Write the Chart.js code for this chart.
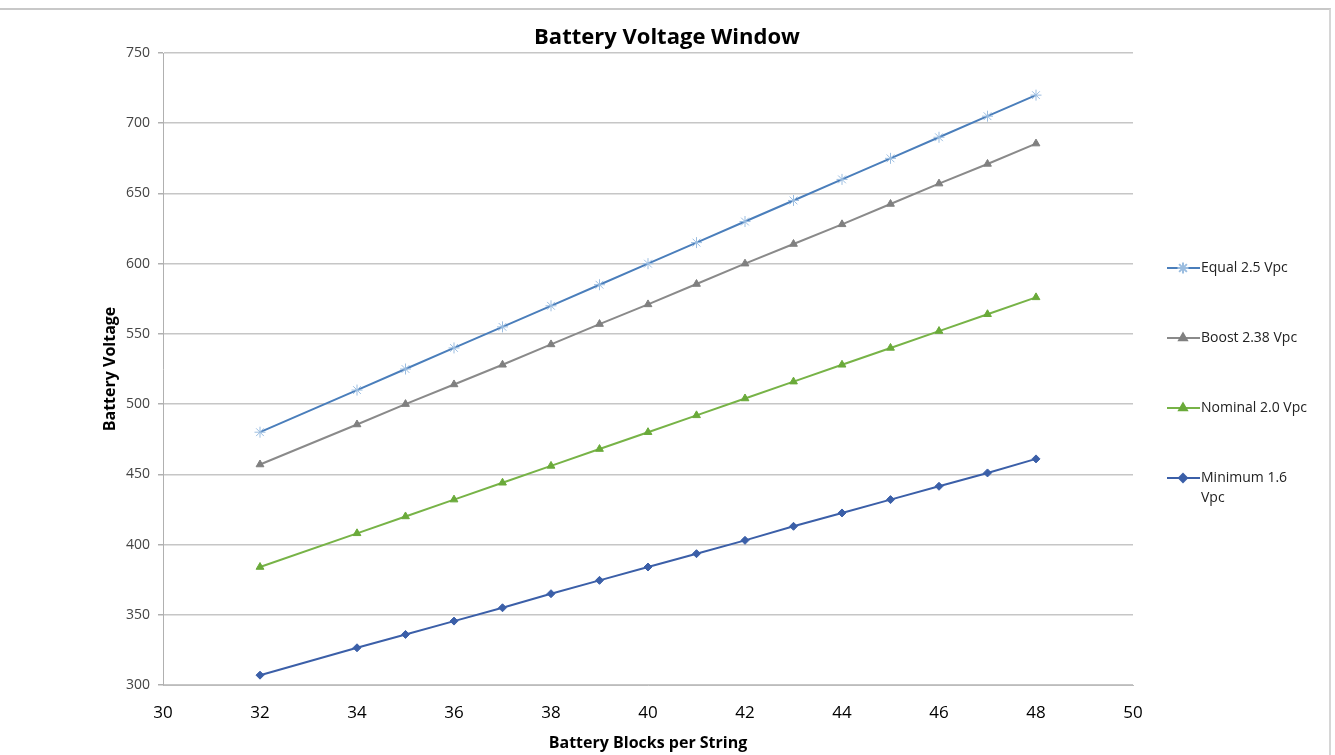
<!DOCTYPE html>
<html>
<head>
<meta charset="utf-8">
<script src="https://cdn.jsdelivr.net/npm/chart.js@4"></script>
<style>
  html,body{margin:0;padding:0;background:#fff;}
  #wrap{position:relative;width:1335px;height:755px;}
  #frame{position:absolute;left:-2px;top:8px;width:1331px;height:760px;border-top:2px solid #c8c8c8;border-right:2px solid #d6d6d6;}
  canvas{position:absolute;left:0;top:0;}
</style>
</head>
<body>
<div id="wrap">
  <div id="frame"></div>
  <canvas id="chart" width="1335" height="755"></canvas>
</div>
<script>
// blocks per string (x values)
const blocks = [32,34,35,36,37,38,39,40,41,42,43,44,45,46,47,48];

const equal   = [480,510,525,540,555,570,585,600,615,630,645,660,675,690,705,720];
const boost   = [457,485.5,500,514,528,542.5,557,571,585.5,600,614,628,642.5,657,671,685.5];
const nominal = [384,408,420,432,444,456,468,480,492,504,516,528,540,552,564,576];
const minimum = [307,326.5,336,345.5,355,365,374.5,384,393.5,403,413,422.5,432,441.5,451,461];

const seriesNames = ["Equal 2.5 Vpc","Boost 2.38 Vpc","Nominal 2.0 Vpc",["Minimum 1.6","Vpc"]];

const xTicks = [30,32,34,36,38,40,42,44,46,48,50];
const yTicks = [300,350,400,450,500,550,600,650,700,750];

function qs(id){ return document.getElementById(id); }

function pts(ys){ return blocks.map((x,i)=>({x:x,y:ys[i]})); }

const FONT = "'Open Sans', 'Liberation Sans', sans-serif";

// title + legend on the right, drawn after the chart
const extras = {
  id:"extras",
  afterDraw(chart){
    const ctx = chart.ctx;
    ctx.save();
    ctx.fillStyle = "#000";
    ctx.font = "bold 22px " + FONT;
    ctx.textAlign = "center";
    ctx.textBaseline = "middle";
    ctx.fillText("Battery Voltage Window", 667, 38);

    const rows = [268,338,408,478];
    chart.data.datasets.forEach((ds,i)=>{
      const y = rows[i];
      ctx.strokeStyle = ds.borderColor;
      ctx.lineWidth = 2;
      ctx.beginPath();
      ctx.moveTo(1167,y); ctx.lineTo(1200,y); ctx.stroke();
      ctx.fillStyle = ds.pointBackgroundColor;
      ctx.strokeStyle = ds.pointBorderColor;
      Chart.helpers.drawPoint(ctx,{
        pointStyle:ds.pointStyle, radius:ds.pointRadius, borderWidth:ds.pointBorderWidth||1, rotation:0
      },1183,y);
      ctx.fillStyle = "#222";
      ctx.font = "14px " + FONT;
      ctx.textAlign = "left";
      const name = seriesNames[i];
      const lines = Array.isArray(name) ? name : [name];
      lines.forEach((t,k)=>ctx.fillText(t,1201,y+k*20));
    });
    ctx.restore();
  }
};

function makeDs(label,data,color,ptColor,style,r){
  return {
    label:label, data:pts(data),
    borderColor:color, backgroundColor:ptColor,
    pointBackgroundColor:ptColor, pointBorderColor:ptColor,
    pointStyle:style, pointRadius:r, pointBorderWidth:1,
    borderWidth:2, tension:0
  };
}

new Chart(qs("chart"),{
  type:"line",
  data:{
    datasets:[
      makeDs("Equal 2.5 Vpc",equal,"#4a7ebb","#9bbde0","star",5.5),
      makeDs("Boost 2.38 Vpc",boost,"#8a8a8a","#808080","triangle",4.5),
      makeDs("Nominal 2.0 Vpc",nominal,"#77b347","#6aaa3a","triangle",4.5),
      makeDs("Minimum 1.6 Vpc",minimum,"#3b5fa8","#3b5fa8","rectRot",4)
    ]
  },
  plugins:[extras],
  options:{
    responsive:false,
    animation:false,
    layout:{padding:{left:0,right:202,top:53,bottom:0}},
    plugins:{legend:{display:false},title:{display:false},tooltip:{enabled:false}},
    scales:{
      x:{
        type:"linear", min:30, max:50,
        afterBuildTicks(s){ s.ticks = xTicks.map(v=>({value:v})); },
        afterFit(s){ s.height = 70; },
        grid:{display:false, drawTicks:false},
        border:{display:true,color:"#bcbcbc",width:1},
        ticks:{color:"#000",font:{family:FONT,size:17},padding:18},
        title:{display:true,text:"Battery Blocks per String",color:"#000",
               font:{family:FONT,size:16,weight:"bold"},padding:{top:0,bottom:2}}
      },
      y:{
        min:300, max:750,
        afterBuildTicks(s){ s.ticks = yTicks.map(v=>({value:v})); },
        afterFit(s){ s.width = 163; },
        grid:{color:"#c6c6c6",lineWidth:1.5,tickLength:5,tickColor:"#b0b0b0"},
        border:{display:true,color:"#b0b0b0",width:1},
        ticks:{color:"#444",font:{family:FONT,size:14},padding:8},
        title:{display:true,text:"Battery Voltage",color:"#000",
               font:{family:FONT,size:16,weight:"bold"},padding:{top:101,bottom:0}}
      }
    }
  }
});
</script>
</body>
</html>
